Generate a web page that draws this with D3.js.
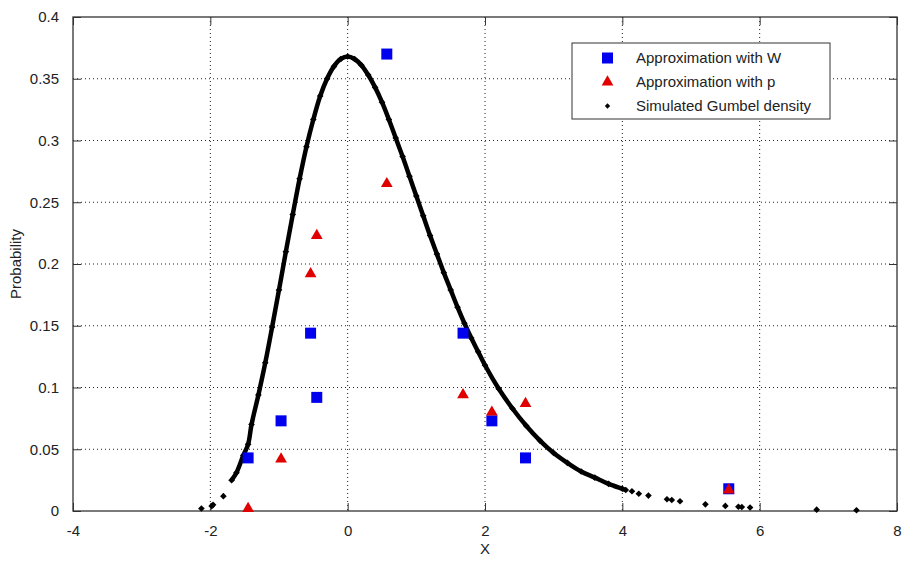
<!DOCTYPE html>
<html>
<head>
<meta charset="utf-8">
<script src="https://cdn.jsdelivr.net/npm/d3@7"></script>
<style>
  body { margin: 0; background: #fff; }
  text { font-family: "Liberation Sans", Arial, sans-serif; }
</style>
</head>
<body>
<div id="chart"></div>
<script>
// puntos
const approxX = [-1.45, -0.97, -0.54, -0.45, 0.57, 1.68, 2.10, 2.59, 5.55];
const approxW = [0.043, 0.073, 0.144, 0.092, 0.370, 0.144, 0.073, 0.043, 0.018];
const approxP = [0.002, 0.042, 0.192, 0.223, 0.265, 0.094, 0.080, 0.087, 0.017];

const gumbelX = [-2.13, -1.98, -1.96, -1.81, -1.69, -1.62, -1.52, -1.45, -1.4, -1.3, -1.2, -1.1, -1.0,
  -0.9, -0.8, -0.7, -0.6, -0.5, -0.4, -0.3, -0.2, -0.1, 0.0, 0.1, 0.2, 0.3, 0.4, 0.5, 0.6, 0.7,
  0.8, 0.9, 1.0, 1.1, 1.2, 1.3, 1.4, 1.5, 1.6, 1.7, 1.8, 1.9, 2.0, 2.2, 2.4, 2.6, 2.8, 3.0, 3.2,
  3.4, 3.6, 3.8, 4.0, 4.05, 4.14, 4.24, 4.38, 4.65, 4.72, 4.84, 5.21, 5.50, 5.69, 5.74, 5.86, 6.83, 7.41];
const gumbelY = [0.002, 0.004, 0.005, 0.012, 0.025, 0.031, 0.045, 0.054, 0.070, 0.094, 0.120, 0.149, 0.179,
  0.210, 0.240, 0.269, 0.295, 0.317, 0.336, 0.350, 0.360, 0.366, 0.368, 0.366, 0.361, 0.353, 0.343, 0.331, 0.317, 0.302,
  0.287, 0.271, 0.255, 0.239, 0.223, 0.208, 0.193, 0.179, 0.165, 0.152, 0.140, 0.129, 0.118, 0.099, 0.083, 0.069, 0.057, 0.047, 0.039,
  0.032, 0.027, 0.022, 0.018, 0.017, 0.016, 0.014, 0.0125, 0.0095, 0.0089, 0.0079, 0.0054, 0.0041, 0.0034, 0.0032, 0.0028, 0.0011, 0.0006];

const xTicks = [-4, -2, 0, 2, 4, 6, 8];
const yTicks = [0, 0.05, 0.1, 0.15, 0.2, 0.25, 0.3, 0.35, 0.4];
const legendLabels = ["Approximation with W", "Approximation with p", "Simulated Gumbel density"];

const margin = { top: 17, right: 7, bottom: 50, left: 73 };
const width = 904 - margin.left - margin.right;
const height = 561 - margin.top - margin.bottom;

const svg = d3.select("#chart")
  .append("svg")
  .attr("width", 904)
  .attr("height", 561)
  .append("g")
  .attr("transform", `translate(${margin.left},${margin.top})`);

const xScale = d3.scaleLinear().domain([-4, 8]).range([0, width]);
const yScale = d3.scaleLinear().domain([0, 0.4]).range([height, 0]);

// grilla punteada
svg.append("g").selectAll("line")
  .data(xTicks.slice(1, -1))
  .enter().append("line")
  .attr("x1", d => xScale(d)).attr("x2", d => xScale(d))
  .attr("y1", 0).attr("y2", height)
  .attr("stroke", "#222").attr("stroke-width", 1)
  .attr("stroke-dasharray", "1,3");

svg.append("g").selectAll("line")
  .data(yTicks.slice(1, -1))
  .enter().append("line")
  .attr("x1", 0).attr("x2", width)
  .attr("y1", d => yScale(d)).attr("y2", d => yScale(d))
  .attr("stroke", "#222").attr("stroke-width", 1)
  .attr("stroke-dasharray", "1,3");

// ejes (ticks hacia adentro)
const axisStyle = g => {
  g.select(".domain").remove();
  g.selectAll("line").attr("stroke", "#333");
  g.selectAll("text").attr("fill", "#222").style("font-size", "15px");
};

svg.append("g")
  .attr("transform", `translate(0,${height})`)
  .call(d3.axisBottom(xScale).tickValues(xTicks).tickSizeInner(-8).tickSizeOuter(0).tickPadding(14).tickFormat(d => String(d)))
  .call(axisStyle);

svg.append("g")
  .call(d3.axisLeft(yScale).tickValues(yTicks).tickSizeInner(-8).tickSizeOuter(0).tickPadding(14).tickFormat(d => String(d)))
  .call(axisStyle);

svg.append("g")
  .call(d3.axisTop(xScale).tickValues(xTicks).tickSizeInner(-8).tickSizeOuter(0).tickFormat(""))
  .call(axisStyle);

svg.append("g")
  .attr("transform", `translate(${width},0)`)
  .call(d3.axisRight(yScale).tickValues(yTicks).tickSizeInner(-8).tickSizeOuter(0).tickFormat(""))
  .call(axisStyle);

svg.append("rect")
  .attr("width", width).attr("height", height)
  .attr("fill", "none").attr("stroke", "#333").attr("stroke-width", 1.3);

// densidad simulada
const gumbel = gumbelX.map((x, i) => ({ x: x, y: gumbelY[i] }));
const line = d3.line()
  .x(d => xScale(d.x))
  .y(d => yScale(d.y))
  .curve(d3.curveCatmullRom);

svg.append("path")
  .datum(gumbel.filter(d => d.x >= -1.7 && d.x <= 4.1))
  .attr("fill", "none")
  .attr("stroke", "#000")
  .attr("stroke-width", 4.5)
  .attr("d", line);

// rombo casi cuadrado como el marcador de matlab
const rombo = d3.symbol().type(d3.symbolSquare).size(22);

svg.selectAll(".diamond")
  .data(gumbel)
  .enter().append("path")
  .attr("class", "diamond")
  .attr("transform", d => `translate(${xScale(d.x)},${yScale(d.y)}) rotate(45)`)
  .attr("d", rombo)
  .attr("fill", "#000");

// aproximaciones
svg.selectAll(".sq")
  .data(approxX)
  .enter().append("rect")
  .attr("class", "sq")
  .attr("x", (d, i) => xScale(d) - 5.5)
  .attr("y", (d, i) => yScale(approxW[i]) - 5.5)
  .attr("width", 11).attr("height", 11)
  .attr("fill", "#0000ee");

svg.selectAll(".tri")
  .data(approxX)
  .enter().append("path")
  .attr("class", "tri")
  .attr("transform", (d, i) => `translate(${xScale(d)},${yScale(approxP[i])})`)
  .attr("d", d3.symbol().type(d3.symbolTriangle).size(60))
  .attr("fill", "#e00000");

// titulos de ejes
svg.append("text")
  .attr("x", width / 2).attr("y", height + 43)
  .attr("text-anchor", "middle")
  .attr("fill", "#222")
  .style("font-size", "15px")
  .text("X");

svg.append("text")
  .attr("transform", `translate(${-52},${height / 2}) rotate(-90)`)
  .attr("text-anchor", "middle")
  .attr("fill", "#222")
  .style("font-size", "15px")
  .text("Probability");

// leyenda
const legend = svg.append("g")
  .attr("transform", `translate(${572 - margin.left},${43 - margin.top})`);

legend.append("rect")
  .attr("width", 258).attr("height", 76)
  .attr("fill", "#fff").attr("stroke", "#333").attr("stroke-width", 1);

const rows = legend.selectAll(".row")
  .data(legendLabels)
  .enter().append("g")
  .attr("transform", (d, i) => `translate(0,${15 + i * 24})`);

rows.append("text")
  .attr("x", 64).attr("y", 0)
  .attr("dy", "0.35em")
  .attr("fill", "#222")
  .style("font-size", "15px")
  .text(d => d);

rows.filter((d, i) => i === 0).append("rect")
  .attr("x", 30).attr("y", -5.5).attr("width", 11).attr("height", 11)
  .attr("fill", "#0000ee");
rows.filter((d, i) => i === 1).append("path")
  .attr("transform", "translate(35.5,0)")
  .attr("d", d3.symbol().type(d3.symbolTriangle).size(60))
  .attr("fill", "#e00000");
rows.filter((d, i) => i === 2).append("path")
  .attr("transform", "translate(35.5,0) rotate(45)")
  .attr("d", d3.symbol().type(d3.symbolSquare).size(14))
  .attr("fill", "#000");
</script>
</body>
</html>
